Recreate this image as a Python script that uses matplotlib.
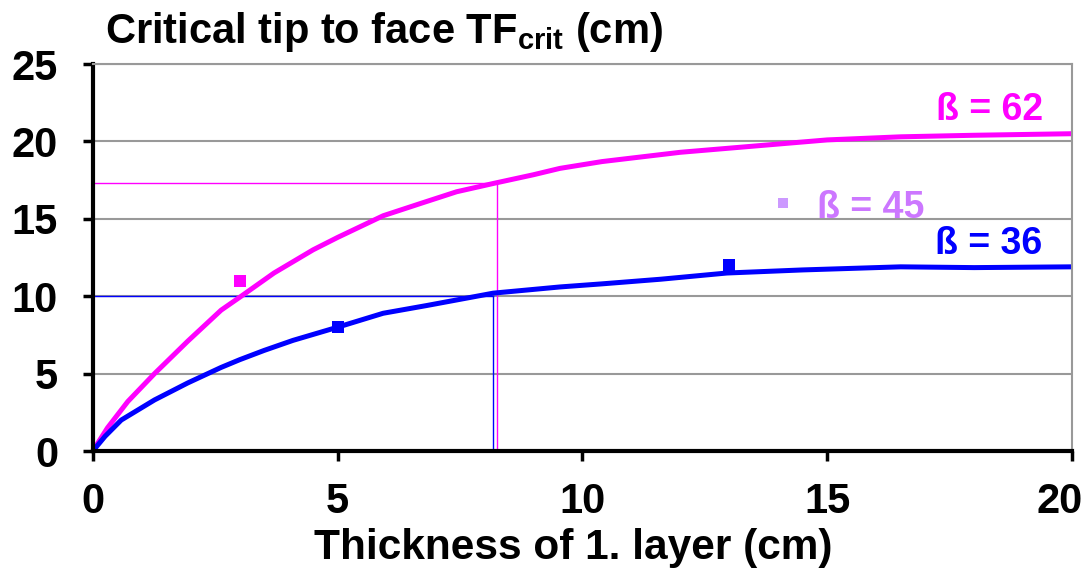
import matplotlib.pyplot as plt
import matplotlib.transforms as mtransforms
import numpy as np

# curve for beta = 62
x62 = [0, 0.3, 0.715, 1.26, 1.94, 2.62, 3.03, 3.7, 4.5, 5.0, 5.93, 6.7, 7.43, 8.2, 9.0, 9.54,
       10.4, 12.0, 13.5, 15.0, 16.5, 18.0, 20.0]
y62 = [0, 1.5, 3.2, 5.0, 7.1, 9.1, 10.0, 11.5, 13.0, 13.8, 15.2, 16.0, 16.75, 17.3, 17.85, 18.26,
       18.7, 19.3, 19.7, 20.1, 20.3, 20.4, 20.5]

# curve for beta = 36
x36 = [0, 0.25, 0.58, 1.26, 1.94, 2.62, 3.0, 3.5, 4.09, 5.0, 5.93, 6.82, 8.18, 9.54, 10.4, 11.6,
       12.95, 14.5, 16.5, 18.0, 20.0]
y36 = [0, 0.95, 2.0, 3.3, 4.4, 5.4, 5.9, 6.5, 7.15, 8.0, 8.9, 9.4, 10.2, 10.6, 10.8, 11.1,
       11.5, 11.7, 11.9, 11.85, 11.9]

# measured points
pts62_x, pts62_y = [3], [11]
pts36_x, pts36_y = [5, 13], [8, 12]
pts45_x, pts45_y = [14.1], [16]

# reading lines (x, y)
read62 = (8.25, 17.3)
read36 = (8.17, 10.0)

xticks = [0, 5, 10, 15, 20]
yticks = [0, 5, 10, 15, 20, 25]

MAG = '#FF00FF'
BLUE = '#0000FF'
LILAC = '#CC99FF'

plt.rcParams['font.family'] = ['Liberation Sans', 'DejaVu Sans']
plt.rcParams['font.weight'] = 'bold'
narrow = ['Liberation Sans Narrow', 'Liberation Sans', 'DejaVu Sans']

fig = plt.figure(figsize=(10.92, 5.72), dpi=100)
ax = fig.add_axes([0.085, 0.2115, 0.8967, 0.6765])

ax.set_xlim(0, 20)
ax.set_ylim(0, 25)
ax.set_xticks(xticks)
ax.set_yticks(yticks)
ax.tick_params(labelsize=30, width=2.5, length=7, direction='out')
ax.tick_params(axis='y', pad=18)
ax.tick_params(axis='x', pad=15)
for lab in ax.get_xticklabels() + ax.get_yticklabels():
    lab.set_fontweight('bold')

# last x label sits a bit left so it stays inside the picture
last = ax.get_xticklabels()[-1]
last.set_transform(last.get_transform() +
                   mtransforms.ScaledTranslation(-0.12, 0, fig.dpi_scale_trans))

ax.grid(axis='y', color='#999999', linewidth=1.5)
ax.set_axisbelow(True)
ax.spines['left'].set_linewidth(3)
ax.spines['bottom'].set_linewidth(3)
ax.spines['right'].set_color('#999999')
ax.spines['right'].set_linewidth(1.5)
ax.spines['top'].set_color('#999999')
ax.spines['top'].set_linewidth(1.5)

# reading lines
ax.plot([0, read62[0]], [read62[1], read62[1]], color=MAG, lw=1)
ax.plot([read62[0], read62[0]], [0, read62[1]], color=MAG, lw=1)
ax.plot([0, read36[0]], [read36[1], read36[1]], color=BLUE, lw=1)
ax.plot([read36[0], read36[0]], [0, read36[1]], color=BLUE, lw=1)

ax.plot(x62, y62, color=MAG, lw=3.6, solid_capstyle='round', solid_joinstyle='round')
ax.plot(x36, y36, color=BLUE, lw=3.6, solid_capstyle='round', solid_joinstyle='round')

ax.plot(pts62_x, pts62_y, 's', color=MAG, ms=8.5, mew=0)
ax.plot(pts36_x, pts36_y, 's', color=BLUE, ms=8.5, mew=0)
ax.plot(pts45_x, pts45_y, 's', color=LILAC, ms=7.5, mew=0)

ax.text(19.4, 22.0, 'ß = 62', color=MAG, fontsize=27, fontweight='bold', ha='right', va='center')
ax.text(14.8, 15.7, 'ß = 45', color='#CC77FF', fontsize=27, fontweight='bold', ha='left', va='center')
ax.text(19.4, 13.4, 'ß = 36', color=BLUE, fontsize=27, fontweight='bold', ha='right', va='center')

fig.text(0.096, 0.925, r'Critical tip to face TF$\mathregular{_{crit}}$ (cm)', fontsize=30,
         fontweight='bold', family=narrow, ha='left', va='baseline')
fig.text(0.525, 0.042, 'Thickness of 1. layer (cm)', fontsize=30.5, fontweight='bold',
         family=narrow, ha='center', va='center')

fig.savefig('out.png', dpi=100)
